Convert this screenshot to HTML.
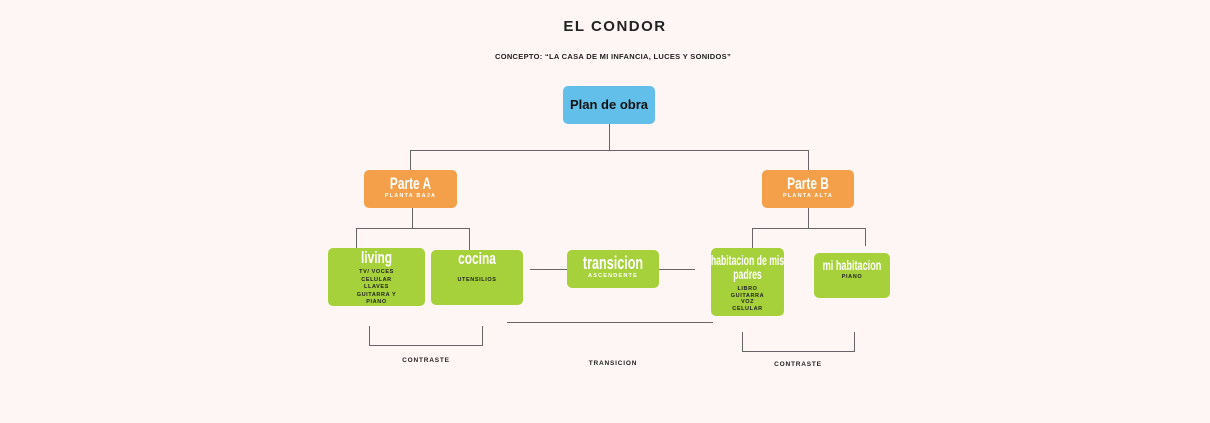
<!DOCTYPE html>
<html><head><meta charset="utf-8"><style>
*{margin:0;padding:0;box-sizing:border-box}
body{width:1210px;height:423px;background:#fdf6f4;position:relative;overflow:hidden;font-family:"Liberation Sans",sans-serif}
.t{position:absolute;text-align:center;white-space:nowrap;font-weight:bold;color:#222}
.box{position:absolute;border-radius:5px;text-align:center;color:#fff}
.g{background:#a6d13a}.o{background:#f4a04a}
.h{font-weight:bold;font-size:16px;line-height:15px;display:block;white-space:nowrap;transform:scaleX(0.7);transform-origin:center;margin:0 -60px}
.s{font-size:5.5px;letter-spacing:1.2px;font-weight:bold;display:block;margin-top:2px}
.d{font-size:5.5px;letter-spacing:0.6px;font-weight:bold;color:#222;line-height:7.5px;display:block}
.l{position:absolute;background:#666}
</style></head><body>
<div class="t" style="left:515px;top:18px;width:200px;font-size:15px;letter-spacing:1.5px">EL CONDOR</div>
<div class="t" style="left:463px;top:52px;width:300px;font-size:7.5px;letter-spacing:0.3px">CONCEPTO: “LA CASA DE MI INFANCIA, LUCES Y SONIDOS”</div>

<div class="box" style="left:563px;top:86px;width:92px;height:38px;background:#62bfe9;color:#111;font-weight:bold;font-size:13px;line-height:38px">Plan de obra</div>

<div class="l" style="left:609px;top:124px;width:1px;height:26px"></div>
<div class="l" style="left:410px;top:150px;width:399px;height:1px"></div>
<div class="l" style="left:410px;top:150px;width:1px;height:20px"></div>
<div class="l" style="left:808px;top:150px;width:1px;height:20px"></div>

<div class="box o" style="left:364px;top:170px;width:93px;height:38px;padding-top:6px"><span class="h" style="font-size:17px">Parte A</span><span class="s">PLANTA BAJA</span></div>
<div class="box o" style="left:762px;top:170px;width:92px;height:38px;padding-top:6px"><span class="h" style="font-size:17px">Parte B</span><span class="s">PLANTA ALTA</span></div>

<div class="l" style="left:412px;top:208px;width:1px;height:20px"></div>
<div class="l" style="left:356px;top:228px;width:113px;height:1px"></div>
<div class="l" style="left:356px;top:228px;width:1px;height:20px"></div>
<div class="l" style="left:469px;top:228px;width:1px;height:22px"></div>

<div class="l" style="left:808px;top:208px;width:1px;height:20px"></div>
<div class="l" style="left:752px;top:228px;width:113px;height:1px"></div>
<div class="l" style="left:752px;top:228px;width:1px;height:20px"></div>
<div class="l" style="left:865px;top:228px;width:1px;height:18px"></div>

<div class="box g" style="left:328px;top:248px;width:97px;height:58px;padding-top:2px"><span class="h" style="font-size:17px">living</span><span class="d" style="margin-top:4px">TV/ VOCES<br>CELULAR<br>LLAVES<br>GUITARRA Y<br>PIANO</span></div>
<div class="box g" style="left:431px;top:250px;width:92px;height:55px;padding-top:1px"><span class="h" style="font-size:17px">cocina</span><span class="d" style="margin-top:11px">UTENSILIOS</span></div>
<div class="box g" style="left:567px;top:250px;width:92px;height:38px;padding-top:6px"><span class="h" style="font-size:18px">transicion</span><span class="s">ASCENDENTE</span></div>
<div class="box g" style="left:711px;top:248px;width:73px;height:68px;padding-top:5px"><span class="h" style="font-size:14px;line-height:14px;transform:scaleX(0.62)">habitacion de mis<br>padres</span><span class="d" style="margin-top:5px;line-height:6.5px">LIBRO<br>GUITARRA<br>VOZ<br>CELULAR</span></div>
<div class="box g" style="left:814px;top:253px;width:76px;height:45px;padding-top:5px"><span class="h" style="font-size:14px;transform:scaleX(0.65)">mi habitacion</span><span class="d" style="margin-top:1px">PIANO</span></div>

<div class="l" style="left:530px;top:269px;width:37px;height:1px"></div>
<div class="l" style="left:659px;top:269px;width:36px;height:1px"></div>
<div class="l" style="left:507px;top:322px;width:206px;height:1px"></div>

<div class="l" style="left:369px;top:326px;width:1px;height:20px"></div>
<div class="l" style="left:482px;top:326px;width:1px;height:20px"></div>
<div class="l" style="left:369px;top:345px;width:114px;height:1px"></div>
<div class="l" style="left:742px;top:332px;width:1px;height:20px"></div>
<div class="l" style="left:854px;top:332px;width:1px;height:20px"></div>
<div class="l" style="left:742px;top:351px;width:113px;height:1px"></div>

<div class="t" style="left:376px;top:357px;width:100px;font-size:6.5px;letter-spacing:0.8px">CONTRASTE</div>
<div class="t" style="left:563px;top:360px;width:100px;font-size:6.5px;letter-spacing:0.8px">TRANSICION</div>
<div class="t" style="left:748px;top:361px;width:100px;font-size:6.5px;letter-spacing:0.8px">CONTRASTE</div>
</body></html>
